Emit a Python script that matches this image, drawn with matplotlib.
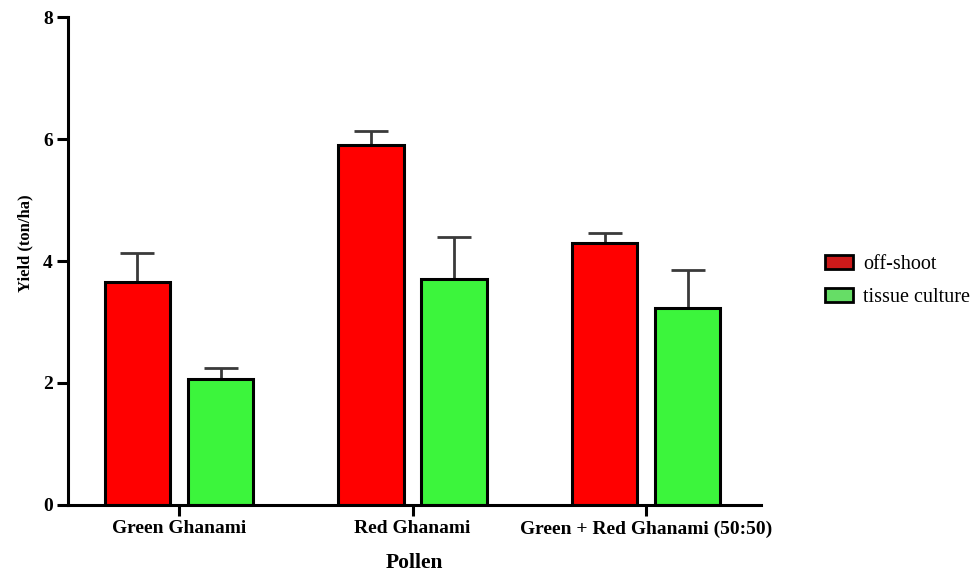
import matplotlib
matplotlib.use("Agg")
import matplotlib.pyplot as plt
from matplotlib.patches import Patch
import numpy as np

# yield per pollen source, mean and upper error
groups = ["Green Ghanami", "Red Ghanami", "Green + Red Ghanami (50:50)"]
offshoot = [3.66, 5.90, 4.29]
offshoot_err = [0.47, 0.23, 0.17]
tissue = [2.07, 3.70, 3.23]
tissue_err = [0.18, 0.69, 0.63]

plt.rcParams["font.family"] = ["Liberation Serif", "DejaVu Serif"]

fig = plt.figure(figsize=(9.76, 5.77), dpi=100)
ax = fig.add_axes([0.0697, 0.1248, 0.7096, 0.8457])

x = np.arange(len(groups))
w = 0.28
off = 0.178
ekw = dict(fmt="none", ecolor="#3a3a3a", elinewidth=2, capsize=12, capthick=2, zorder=1)

ax.bar(x - off, offshoot, w, color="#ff0000", edgecolor="black", linewidth=2.2, zorder=2)
ax.bar(x + off, tissue, w, color="#3cf53c", edgecolor="black", linewidth=2.2, zorder=2)
ax.errorbar(x - off, offshoot, yerr=[np.zeros(3), offshoot_err], **ekw)
ax.errorbar(x + off, tissue, yerr=[np.zeros(3), tissue_err], **ekw)

ax.set_xlim(-0.475, 2.49)
ax.set_ylim(0, 8)
ax.set_yticks([0, 2, 4, 6, 8])
ax.set_xticks(x)
ax.set_xticklabels(groups)
for lab in ax.get_xticklabels() + ax.get_yticklabels():
    lab.set_fontweight("bold")
    lab.set_fontsize(14)

for s in ["top", "right"]:
    ax.spines[s].set_visible(False)
for s in ["left", "bottom"]:
    ax.spines[s].set_linewidth(2.2)
ax.tick_params(axis="both", width=2.2, length=8, pad=3)

ax.set_xlabel("Pollen", fontsize=15.5, fontweight="bold", labelpad=11)
ax.set_ylabel("Yield (ton/ha)", fontsize=12, fontweight="bold")
ax.yaxis.set_label_coords(-0.05, 0.537)

handles = [Patch(facecolor="#cc1a1a", edgecolor="black", linewidth=2, label="off-shoot"),
           Patch(facecolor="#66dd66", edgecolor="black", linewidth=2, label="tissue culture")]
fig.legend(handles=handles, loc="center left", bbox_to_anchor=(0.837, 0.513),
           frameon=False, fontsize=14.5, handlelength=1.4, handleheight=0.65,
           labelspacing=0.7, handletextpad=0.5, borderaxespad=0)

fig.savefig("out.png", dpi=100)
